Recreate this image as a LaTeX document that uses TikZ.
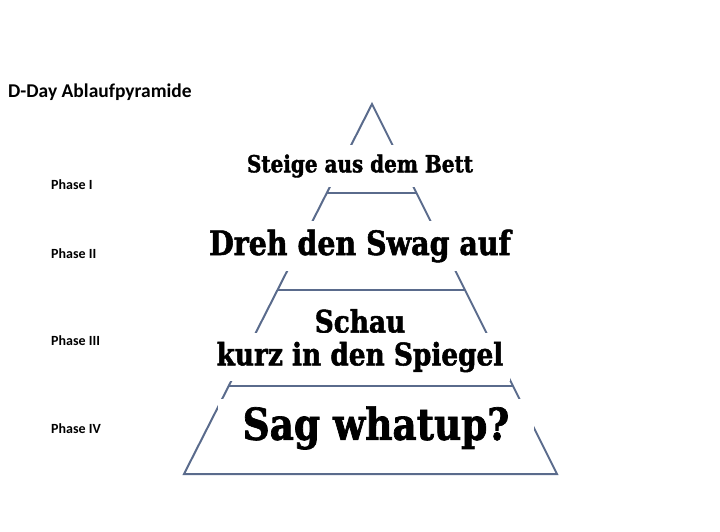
\documentclass[tikz,border=0pt]{standalone}
\usepackage{fontspec}
\setmainfont{Carlito}
\newfontfamily\slabfont[FakeStretch=0.85, BoldFeatures={FakeBold=1.6}]{DejaVu Serif}
\usetikzlibrary{positioning,calc}

\definecolor{pyrline}{HTML}{5A6B8C}

\tikzset{
    pyr/.style={draw=pyrline, line width=2pt},
    stufe/.style={fill=white, inner sep=0pt, font=\slabfont\bfseries},
    phase/.style={anchor=base west, inner sep=0pt, font=\bfseries\fontsize{14}{16}\selectfont},
}

\begin{document}
\begin{tikzpicture}[x=1pt, y=-1pt]
    \useasboundingbox (0,0) rectangle (720,532);

    % Pyramid outline and levels
    \coordinate (top) at (372,104);
    \coordinate (bl) at (184,474);
    \coordinate (br) at (557,474);
    \draw[pyr] (bl) -- (top) -- (br) -- cycle;
    \foreach \t in {0.241,0.503,0.762}
        \draw[pyr] ($(top)!\t!(bl)$) -- ($(top)!\t!(br)$);

    % Level texts
    \node[stufe, minimum width=230, minimum height=41, font=\slabfont\bfseries\fontsize{23.5}{27}\selectfont] (s1) at (360,166) {Steige aus dem Bett};
    \node[stufe, minimum width=306, minimum height=50, font=\slabfont\bfseries\fontsize{33.5}{38}\selectfont] (s2) at (360,246) {Dreh den Swag auf};
    \node[stufe, font=\slabfont\bfseries\fontsize{31}{35}\selectfont] (s3a) at (360,321) {Schau};
    \node[stufe, minimum width=300, minimum height=48, font=\slabfont\bfseries\fontsize{31}{35}\selectfont] (s3b) at (360,357) {kurz in den Spiegel};
    \node[stufe, minimum width=316, minimum height=58, font=\slabfont\bfseries\fontsize{44}{48}\selectfont] (s4) at (376,428) {Sag whatup?};

    % Title and phases
    \node[phase, font=\bfseries\fontsize{19.5}{22}\selectfont] (title) at (8,98) {D-Day Ablaufpyramide};
    \node[phase] (p1) at (51,189) {Phase I};
    \node[phase] (p2) at (51,258) {Phase II};
    \node[phase] (p3) at (51,345) {Phase III};
    \node[phase] (p4) at (51,433) {Phase IV};
\end{tikzpicture}
\end{document}
